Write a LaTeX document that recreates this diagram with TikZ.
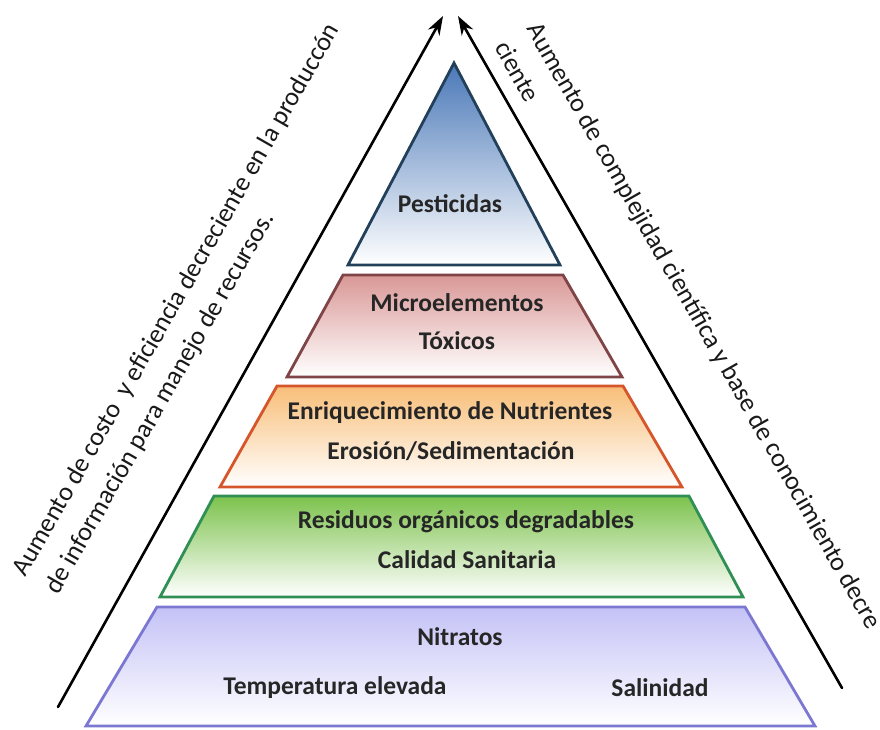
\documentclass[tikz,border=0pt]{standalone}
\usepackage{fontspec}
\setmainfont{Carlito}
\usetikzlibrary{arrows.meta}

\definecolor{pestArriba}{HTML}{4A78B8}
\definecolor{pestLinea}{HTML}{23405A}
\definecolor{microArriba}{HTML}{D99896}
\definecolor{microLinea}{HTML}{7E4446}
\definecolor{enrArriba}{HTML}{F8BE78}
\definecolor{enrLinea}{HTML}{D4562A}
\definecolor{resArriba}{HTML}{7CC24C}
\definecolor{resLinea}{HTML}{2F8F55}
\definecolor{nitArriba}{HTML}{C4C2F6}
\definecolor{nitLinea}{HTML}{7C78D2}

\begin{document}
\begin{tikzpicture}[x=1pt,y=-1pt,line cap=round,line join=round,
  capa/.style={line width=2.8pt,line cap=butt,line join=miter},
  lbl/.style={font=\fontsize{25.5}{30}\selectfont\bfseries,text=black!85,inner sep=0pt},
  lado/.style={font=\fontsize{26.2}{37}\selectfont,align=left,inner sep=0pt,text=black!90},
  flecha/.style={line width=2.6pt,-{Stealth[length=19pt,width=13pt]}}]
  \useasboundingbox (0,0) rectangle (880,729);
  % capas de la pirámide
  \draw[capa,draw=pestLinea,top color=pestArriba,bottom color=white]
    (454,63) -- (560,265) -- (348,265) -- cycle;
  \draw[capa,draw=microLinea,top color=microArriba,bottom color=white]
    (343,275) -- (563,275) -- (622,377) -- (287,377) -- cycle;
  \draw[capa,draw=enrLinea,top color=enrArriba,bottom color=white]
    (277,386) -- (623,386) -- (682,487) -- (220,487) -- cycle;
  \draw[capa,draw=resLinea,top color=resArriba,bottom color=white]
    (214,496) -- (689,496) -- (743,597) -- (160,597) -- cycle;
  \draw[capa,draw=nitLinea,top color=nitArriba,bottom color=white]
    (157,607) -- (745,607) -- (815,726) -- (86,726) -- cycle;
  % textos de las capas
  \node[lbl] (pest) at (450,204) {Pesticidas};
  \node[lbl] (micro) at (457,303) {Microelementos};
  \node[lbl] (tox) at (457,341) {Tóxicos};
  \node[lbl] (enr) at (450,413) {Enriquecimiento de Nutrientes};
  \node[lbl] (eros) at (451,451) {Erosión/Sedimentación};
  \node[lbl] (res) at (466,522) {Residuos orgánicos degradables};
  \node[lbl] (cal) at (467,560) {Calidad Sanitaria};
  \node[lbl] (nit) at (460,637) {Nitratos};
  \node[lbl] (temp) at (335,688) {Temperatura elevada};
  \node[lbl] (sal) at (660,688) {Salinidad};
  % flechas laterales
  \coordinate (izqIni) at (58,707);
  \coordinate (izqFin) at (443,16);
  \coordinate (derIni) at (842,688);
  \coordinate (derFin) at (458,16);
  \draw[flecha] (izqIni) -- (izqFin);
  \draw[flecha] (derIni) -- (derFin);
  % textos laterales (el ancla es la base de la ultima linea)
  \node[lado,rotate=60.2,anchor=base west] (costo) at (58,596)
    {Aumento de costo \ y eficiencia decreciente en la produccón\\de información para manejo de recursos.};
  \node[lado,rotate=-60.4,anchor=base west] (compl) at (494,47)
    {Aumento de complejidad científica y base de conocimiento decre\\ciente};
\end{tikzpicture}
\end{document}
